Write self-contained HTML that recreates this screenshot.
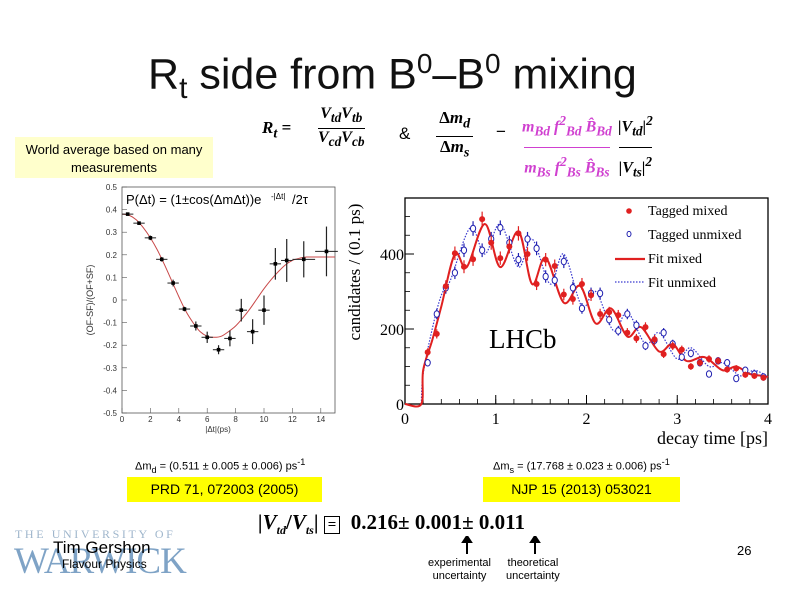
<!DOCTYPE html>
<html><head><meta charset="utf-8"><style>
body{margin:0;width:794px;height:595px;background:#fff;overflow:hidden;position:relative;font-family:"Liberation Sans",sans-serif}
.a{position:absolute;white-space:nowrap}
.serif{font-family:"Liberation Serif",serif}
</style></head><body>
<div class="a" style="left:148px;top:48px;font-size:43px;color:#111">R<sub style="font-size:30px">t</sub> side from B<sup style="font-size:28px">0</sup>–B<sup style="font-size:28px">0</sup> mixing</div>
<div class="a" style="left:15px;top:137px;width:198px;height:41px;background:#ffffcc;font-size:13px;text-align:center;line-height:18px;padding-top:4px;box-sizing:border-box;white-space:normal">World average based on many measurements</div>
<div class="a serif" style="left:262px;top:118px;font-size:17px;font-weight:bold;font-style:italic">R<sub>t</sub> =</div>
<div class="a serif" style="left:318px;top:104px;font-size:16px;font-weight:bold;font-style:italic;line-height:20px;text-align:center">V<sub>td</sub>V<sub>tb</sub><br><span style="border-top:1px solid #000">V<sub>cd</sub>V<sub>cb</sub></span></div>
<div class="a" style="left:399px;top:124px;font-size:17px">&amp;</div>
<div class="a serif" style="left:436px;top:106px;font-size:17px;font-weight:bold;line-height:24px;text-align:center">Δ<i>m<sub>d</sub></i><br><span style="border-top:1.5px solid #000;padding:0 4px">Δ<i>m<sub>s</sub></i></span></div>
<div class="a" style="left:496px;top:122px;font-size:17px">−</div>
<div class="a serif" style="left:522px;top:106px;font-size:16px;font-weight:bold;font-style:italic;color:#d040d0;line-height:30px;text-align:center">m<sub>Bd</sub> f<sup>2</sup><sub>Bd</sub> B̂<sub>Bd</sub><br><span style="border-top:1.5px solid #d040d0;display:inline-block;line-height:28px">m<sub>Bs</sub> f<sup>2</sup><sub>Bs</sub> B̂<sub>Bs</sub></span></div>
<div class="a serif" style="left:618px;top:106px;font-size:16px;font-weight:bold;font-style:italic;line-height:30px;text-align:center">|V<sub>td</sub>|<sup>2</sup><br><span style="border-top:1px solid #000;display:inline-block;line-height:28px">|V<sub>ts</sub>|<sup>2</sup></span></div>

<svg class="a" style="left:0;top:0" width="794" height="595">
<g id="left"></g>
<g id="right"></g>
</svg>

<div class="a" style="left:135px;top:457px;font-size:11px">Δm<sub>d</sub> = (0.511 ± 0.005 ± 0.006) ps<sup>-1</sup></div>
<div class="a" style="left:493px;top:457px;font-size:11px">Δm<sub>s</sub> = (17.768 ± 0.023 ± 0.006) ps<sup>-1</sup></div>
<div class="a" style="left:127px;top:477px;width:195px;height:25px;background:#ffff00;font-size:14px;text-align:center;line-height:25px">PRD 71, 072003 (2005)</div>
<div class="a" style="left:483px;top:477px;width:197px;height:25px;background:#ffff00;font-size:14px;text-align:center;line-height:25px">NJP 15 (2013) 053021</div>
<div class="a serif" style="left:258px;top:510px;font-size:21px;font-weight:bold"><i>|V<sub style="font-size:12px">td</sub></i>/<i>V<sub style="font-size:12px">ts</sub></i>| <span style="border:1.5px solid #000;padding:0 3px;font-size:15px">=</span>&nbsp; 0.216± 0.001± 0.011</div>
<svg class="a" style="left:460px;top:536px" width="90" height="18"><path d="M7 18V4M3 6L7 0L11 6Z M75 18V4M71 6L75 0L79 6Z" stroke="#000" stroke-width="2" fill="#000"/></svg>
<div class="a" style="left:428px;top:557px;font-size:11px;text-align:center;line-height:13px">experimental<br>uncertainty</div>
<div class="a" style="left:506px;top:557px;font-size:11px;text-align:center;line-height:13px">theoretical<br>uncertainty</div>
<div class="a serif" style="left:15px;top:527px;font-size:12px;letter-spacing:2.6px;color:#9fb6cc">THE UNIVERSITY OF</div>
<div class="a serif" style="left:14px;top:540px;font-size:37px;color:#7fa3c6;letter-spacing:-1px">WARWICK</div>
<div class="a" style="left:53px;top:538px;font-size:17px">Tim Gershon</div>
<div class="a" style="left:62px;top:557px;font-size:12px">Flavour Physics</div>
<div class="a" style="left:737px;top:543px;font-size:13px">26</div>

<script>
// Left chart data (BaBar-like asymmetry)
const lT=[0.4,1.2,2.0,2.8,3.6,4.4,5.2,6.0,6.8,7.6,8.4,9.2,10.0,10.8,11.6,12.8,14.4];
const lY=[0.38,0.34,0.275,0.18,0.075,-0.04,-0.115,-0.165,-0.22,-0.17,-0.045,-0.14,-0.045,0.16,0.175,0.18,0.215];
const lE=[0,0,0.01,0.01,0.015,0.01,0.02,0.025,0.02,0.035,0.05,0.055,0.065,0.07,0.095,0.08,0.11];
const lXE=[0.4,0.4,0.4,0.4,0.4,0.4,0.4,0.4,0.4,0.4,0.4,0.4,0.4,0.4,0.4,0.8,0.8];
const lFitT=[0,0.5,1,1.5,2,2.5,3,3.5,4,4.5,5,5.5,6,6.5,7,7.5,8,8.5,9,9.5,10,10.5,11,11.5,12,12.5,13,14,15];
const lFitY=[0.38,0.375,0.355,0.32,0.275,0.22,0.155,0.085,0.015,-0.05,-0.1,-0.14,-0.16,-0.165,-0.16,-0.14,-0.115,-0.08,-0.04,0.005,0.05,0.09,0.125,0.155,0.175,0.185,0.19,0.19,0.19];
const lXTicks=[0,2,4,6,8,10,12,14];
const lYTicks=[-0.5,-0.4,-0.3,-0.2,-0.1,0,0.1,0.2,0.3,0.4,0.5];
// Right chart data (LHCb Bs mixing)
const rT=[0.25,0.35,0.45,0.55,0.65,0.75,0.85,0.95,1.05,1.15,1.25,1.35,1.45,1.55,1.65,1.75,1.85,1.95,2.05,2.15,2.25,2.35,2.45,2.55,2.65,2.75,2.85,2.95,3.05,3.15,3.25,3.35,3.45,3.55,3.65,3.75,3.85,3.95];
const rMixed=[138,187,314,402,366,386,493,430,389,420,455,400,320,385,368,292,280,320,290,240,245,237,190,175,205,172,133,155,145,100,110,120,115,92,95,78,75,70];
const rUnmixed=[110,240,310,350,410,468,410,440,470,430,385,440,415,340,330,380,310,255,295,295,225,195,240,210,155,170,190,160,125,135,110,80,115,110,68,90,80,72];
const fitMixT=[0,0.18,0.2,0.3,0.4,0.55,0.68,0.88,1.05,1.25,1.4,1.55,1.75,1.93,2.1,2.27,2.45,2.6,2.8,2.95,3.1,3.3,3.5,3.65,3.8,3.95,4];
const fitMixY=[0,0,90,170,260,400,365,480,365,460,320,390,270,315,215,255,180,205,140,160,115,125,90,100,80,75,72];
const fitUnT=[0.18,0.2,0.3,0.4,0.5,0.72,0.88,1.05,1.25,1.4,1.6,1.75,1.95,2.1,2.3,2.45,2.65,2.8,3.0,3.15,3.35,3.5,3.7,3.85,4];
const fitUnY=[0,80,200,290,330,470,400,480,365,440,320,400,260,300,195,245,160,190,120,150,100,110,75,90,72];
const rXTicks=[0,1,2,3,4];
const rYTicks=[0,200,400];

const NS='http://www.w3.org/2000/svg';
function mk(p,tag,at,txt){const e=document.createElementNS(NS,tag);for(const k in at)e.setAttribute(k,at[k]);if(txt!==undefined)e.textContent=txt;p.appendChild(e);return e;}
function spline(pts){let d='M'+pts[0][0]+' '+pts[0][1];for(let i=0;i<pts.length-1;i++){const p0=pts[Math.max(0,i-1)],p1=pts[i],p2=pts[i+1],p3=pts[Math.min(pts.length-1,i+2)];d+=' C'+(p1[0]+(p2[0]-p0[0])/6)+' '+(p1[1]+(p2[1]-p0[1])/6)+' '+(p2[0]-(p3[0]-p1[0])/6)+' '+(p2[1]-(p3[1]-p1[1])/6)+' '+p2[0]+' '+p2[1];}return d;}

// Left chart
const L=document.getElementById('left');
const lx=v=>122+v*(335-122)/15, ly=v=>413-(v+0.5)*(413-187);
let e=mk(L,'rect',{x:122,y:187,width:213,height:226,fill:'#fff',stroke:'#555','stroke-width':0.8});

lYTicks.forEach(v=>{mk(L,'line',{x1:122,x2:127,y1:ly(v),y2:ly(v),stroke:'#555','stroke-width':0.6});
 const t=mk(L,'text',{x:117,y:ly(v)+3,'font-size':8,'text-anchor':'end',fill:'#333'},String(v));
 });
lXTicks.forEach(v=>{mk(L,'line',{x1:lx(v),x2:lx(v),y1:413,y2:408,stroke:'#555','stroke-width':0.6});
 const t=mk(L,'text',{x:lx(v),y:422,'font-size':8,'text-anchor':'middle',fill:'#333'},String(v));
 });
e=mk(L,'text',{x:218,y:432,'font-size':8,'text-anchor':'middle',fill:'#333'},'|Δt|(ps)');

e=mk(L,'text',{x:0,y:0,'font-size':9,'text-anchor':'middle',fill:'#333',transform:'translate(93,300) rotate(-90)'},'(OF-SF)/(OF+SF)');

e=mk(L,'path',{d:spline(lFitT.map((t,i)=>[lx(t),ly(lFitY[i])])),fill:'none',stroke:'#c84848','stroke-width':1});

lT.forEach((t,i)=>{const g=mk(L,'g',{});
 
 mk(g,'line',{x1:lx(t-lXE[i]),x2:lx(t+lXE[i]),y1:ly(lY[i]),y2:ly(lY[i]),stroke:'#222','stroke-width':1});
 mk(g,'line',{x1:lx(t),x2:lx(t),y1:ly(lY[i]-lE[i]),y2:ly(lY[i]+lE[i]),stroke:'#222','stroke-width':1.2});
 mk(g,'rect',{x:lx(t)-1.8,y:ly(lY[i])-1.8,width:3.6,height:3.6,fill:'#000'});});
mk(L,'rect',{x:125,y:189,width:145,height:20,fill:'#fff'});
e=mk(L,'text',{x:126,y:204,'font-size':13,fill:'#000'},'P(Δt) = (1±cos(ΔmΔt))e');

mk(L,'text',{x:271,y:199,'font-size':8},'-|Δt|');mk(L,'text',{x:292,y:204,'font-size':13},'/2τ');

// Right chart
const R=document.getElementById('right');
const rx=v=>405+v*(768-405)/4, ry=v=>404-v*75/200;
e=mk(R,'rect',{x:405,y:198,width:363,height:206,fill:'#fff',stroke:'#000','stroke-width':1.3});

rYTicks.forEach(v=>{mk(R,'line',{x1:405,x2:414,y1:ry(v),y2:ry(v),stroke:'#000'});
 const t=mk(R,'text',{x:404,y:ry(v)+6,'font-size':16,'text-anchor':'end','font-family':'Liberation Serif'},String(v));
 });
for(let v=50;v<550;v+=50){if(v%200)mk(R,'line',{x1:405,x2:410,y1:ry(v),y2:ry(v),stroke:'#000','stroke-width':0.8});}
rXTicks.forEach(v=>{mk(R,'line',{x1:rx(v),x2:rx(v),y1:404,y2:395,stroke:'#000'});
 const t=mk(R,'text',{x:rx(v),y:424,'font-size':16,'text-anchor':'middle','font-family':'Liberation Serif'},String(v));
 });
for(let v=0.2;v<4;v+=0.2){mk(R,'line',{x1:rx(v),x2:rx(v),y1:404,y2:399,stroke:'#000','stroke-width':0.8});}
e=mk(R,'text',{x:768,y:444,'font-size':18,'text-anchor':'end','font-family':'Liberation Serif'},'decay time [ps]');

e=mk(R,'text',{x:0,y:0,'font-size':17,'text-anchor':'middle','font-family':'Liberation Serif',transform:'translate(360,272) rotate(-90)'},'candidates / (0.1 ps)');

e=mk(R,'text',{x:489,y:348,'font-size':27,'font-family':'Liberation Serif'},'LHCb');

e=mk(R,'path',{d:spline(fitUnT.map((t,i)=>[rx(t),ry(fitUnY[i])])),fill:'none',stroke:'#3a3ad0','stroke-width':1.2,'stroke-dasharray':'1.5 1.5'});

e=mk(R,'path',{d:spline(fitMixT.map((t,i)=>[rx(t),ry(fitMixY[i])])),fill:'none',stroke:'#e02020','stroke-width':2});

rT.forEach((t,i)=>{const g=mk(R,'g',{});
 
 const v=rUnmixed[i],er=Math.sqrt(v)*0.9;
 mk(g,'line',{x1:rx(t),x2:rx(t),y1:ry(v-er),y2:ry(v+er),stroke:'#2020b0','stroke-width':1.2});
 mk(g,'ellipse',{cx:rx(t),cy:ry(v),rx:2.6,ry:3.2,fill:'#fff',stroke:'#2020b0','stroke-width':1});});
rT.forEach((t,i)=>{const g=mk(R,'g',{});
 
 const v=rMixed[i],er=Math.sqrt(v)*0.9;
 mk(g,'line',{x1:rx(t),x2:rx(t),y1:ry(v-er),y2:ry(v+er),stroke:'#e02020','stroke-width':1.2});
 mk(g,'circle',{cx:rx(t),cy:ry(v),r:3,fill:'#e02020'});});
// legend
const lg=mk(R,'g',{});

mk(lg,'rect',{x:612,y:200,width:150,height:92,fill:'#fff'});
mk(lg,'circle',{cx:629,cy:211,r:2.8,fill:'#e02020'});
mk(lg,'ellipse',{cx:629,cy:234,rx:2,ry:2.6,fill:'none',stroke:'#2020b0'});
mk(lg,'line',{x1:615,x2:645,y1:259,y2:259,stroke:'#e02020','stroke-width':2.2});
mk(lg,'line',{x1:615,x2:645,y1:282,y2:282,stroke:'#3a3ad0','stroke-width':1.2,'stroke-dasharray':'1.5 1.5'});
['Tagged mixed','Tagged unmixed','Fit mixed','Fit unmixed'].forEach((s,i)=>{
 const t=mk(lg,'text',{x:648,y:215+i*24,'font-size':14,'font-family':'Liberation Serif'},s);
 });
</script>
</body></html>
